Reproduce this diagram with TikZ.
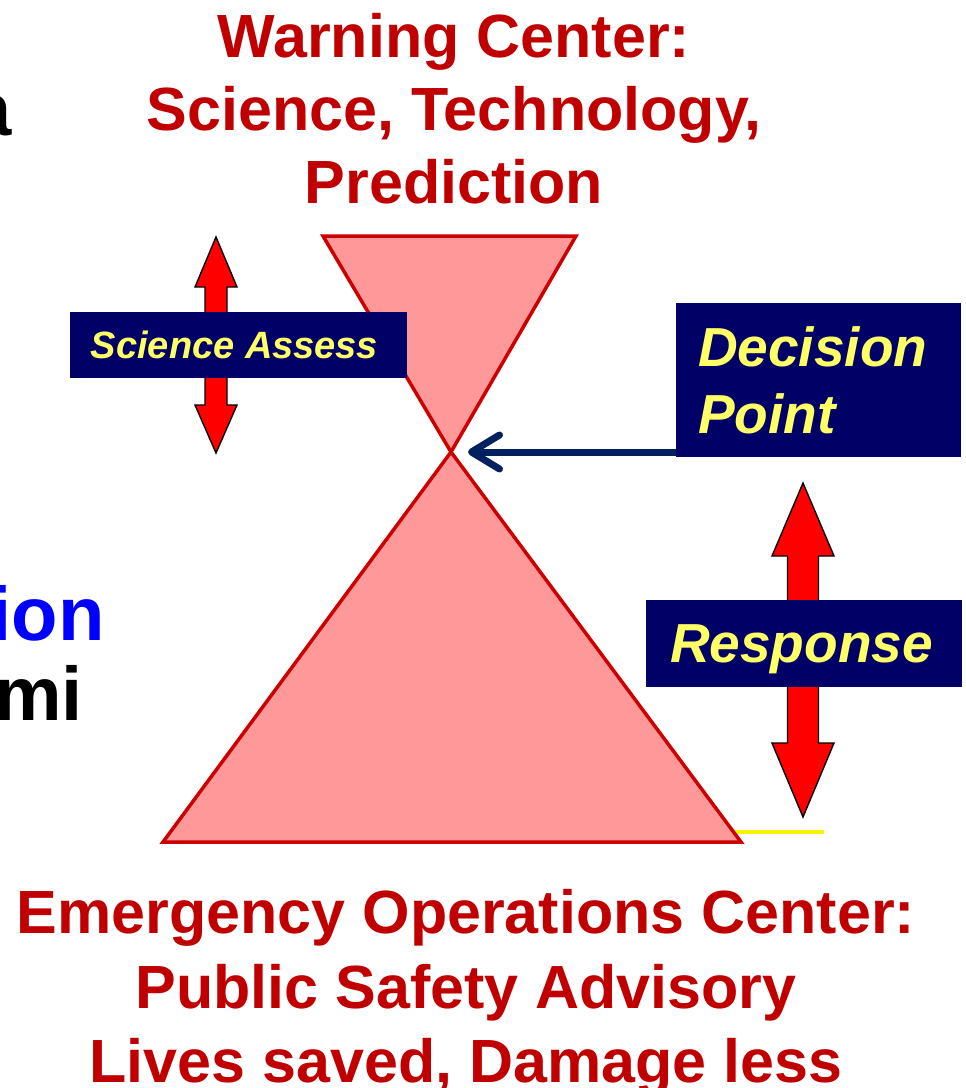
\documentclass[tikz,border=0pt]{standalone}
\usepackage{fontspec}
\setmainfont{Liberation Sans}
\usetikzlibrary{arrows.meta}
\definecolor{titlered}{HTML}{C00000}
\definecolor{trifill}{HTML}{FF9999}
\definecolor{triline}{HTML}{CC0000}
\definecolor{navybox}{HTML}{000066}
\definecolor{boxtext}{HTML}{FFFF66}
\definecolor{arrownavy}{HTML}{002060}
\definecolor{sideblue}{HTML}{0000FF}
\begin{document}
\begin{tikzpicture}[x=1pt,y=-1pt,
  bigtext/.style={font=\bfseries\fontsize{61}{73}\selectfont, text=titlered, inner sep=0pt, anchor=base},
  sidetext/.style={font=\bfseries\fontsize{76}{90}\selectfont, inner sep=0pt, anchor=base east},
  tri/.style={fill=trifill, draw=triline, line width=3.5pt, line join=miter},
  dblarrow/.style={fill=red, draw=black, line width=1.4pt, line join=miter},
  navy/.style={fill=navybox, text=boxtext, font=\bfseries\itshape, inner ysep=0pt, outer sep=0pt},
  decarrow/.style={draw=arrownavy, line width=7pt, -{Straight Barb[length=28pt,width=34pt,round]}, shorten >=17pt},
  yline/.style={draw=yellow, line width=4pt}
]
\useasboundingbox (0,0) rectangle (966,1088);
\clip (0,0) rectangle (966,1088);
\fill[white] (0,0) rectangle (966,1088);

% partial texts at left edge
\node[sidetext, text=black] (sa) at (12,135) {a};
\node[sidetext, text=sideblue] (sion) at (105,640) {ion};
\node[sidetext, text=black] (smi) at (83,720) {mi};

% title
\node[bigtext] (t1) at (454,57) {Warning Center:};
\node[bigtext] (t2) at (454,130) {Science, Technology,};
\node[bigtext] (t3) at (454,203) {Prediction};

% bottom text
\node[bigtext] (b1) at (466,933) {Emergency Operations Center:};
\node[bigtext] (b2) at (466,1008) {Public Safety Advisory};
\node[bigtext] (b3) at (466,1082) {Lives saved, Damage less};

% yellow line (behind triangle)
\coordinate (y1) at (733,832);
\coordinate (y2) at (824,832);
\draw[yline] (y1) -- (y2);

% hourglass triangles
\coordinate (apex) at (451,452);
\draw[tri] (323,236) -- (576,236) -- (apex) -- cycle;
\draw[tri] (apex) -- (741,842) -- (163,842) -- cycle;

% double arrows
\draw[dblarrow] (216,237) -- (237,287) -- (227,287) -- (227,405) -- (237,405) -- (216,453)
  -- (195,405) -- (205,405) -- (205,287) -- (195,287) -- cycle;
\draw[dblarrow] (803,483) -- (834,556) -- (818.5,556) -- (818.5,743) -- (834,743) -- (803,817)
  -- (772,743) -- (787.5,743) -- (787.5,556) -- (772,556) -- cycle;

% boxes
\node[navy, anchor=north west, minimum width=337pt, minimum height=66pt,
      font=\bfseries\itshape\fontsize{38}{42}\selectfont, inner xsep=0pt] (sci) at (70,312)
      {\hspace*{-8pt}Science Assess};
\node[navy, anchor=north west, minimum width=285pt, minimum height=154pt,
      font=\bfseries\itshape\fontsize{55}{67}\selectfont, inner xsep=22pt,
      text width=241pt, align=left] (dp) at (676,303) {Decision\\Point};
\node[navy, anchor=north west, minimum width=316pt, minimum height=87pt,
      font=\bfseries\itshape\fontsize{55}{67}\selectfont, inner xsep=24pt,
      text width=268pt, align=left, text depth=0pt] (resp) at (646,600) {Response};

% decision arrow
\draw[decarrow] (dp.west |- apex) -- (apex);
\end{tikzpicture}
\end{document}
